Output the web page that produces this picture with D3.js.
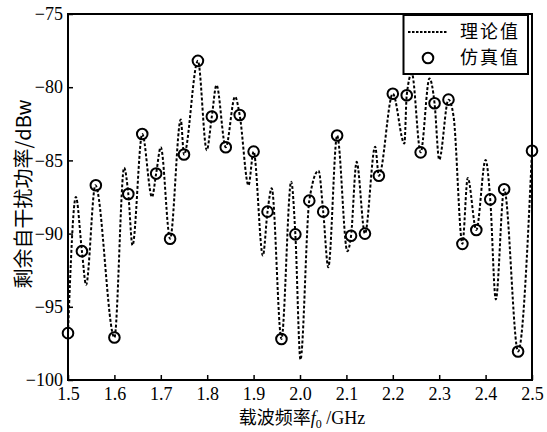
<!DOCTYPE html>
<html><head><meta charset="utf-8">
<script src="https://cdn.jsdelivr.net/npm/d3@7"></script>
<style>body{margin:0;background:#fff}</style>
</head><body><svg id="c" width="547" height="432"></svg>
<script>
// ---- data ----
const simFreq = [1.50,1.53,1.56,1.60,1.63,1.66,1.69,1.72,1.75,1.78,1.81,1.84,1.87,1.90,1.93,1.96,1.99,
                 2.02,2.05,2.08,2.11,2.14,2.17,2.20,2.23,2.26,2.29,2.32,2.35,2.38,2.41,2.44,2.47,2.50];
const simValue = [-96.8,-91.2,-86.7,-97.1,-87.3,-83.2,-85.9,-90.35,-84.6,-78.2,-82.0,-84.1,-81.9,-84.4,-88.5,-97.2,-90.05,
                  -87.75,-88.5,-83.3,-90.15,-90.0,-86.05,-80.45,-80.55,-84.45,-81.1,-80.85,-90.7,-89.75,-87.66,-86.97,-98.05,-84.34];
const theoryFreq = [1.500,1.517,1.530,1.539,1.559,1.600,1.621,1.630,1.639,1.660,1.681,1.690,1.700,1.720,1.743,1.750,1.780,
                    1.799,1.810,1.820,1.840,1.860,1.870,1.889,1.900,1.920,1.930,1.939,1.960,1.981,1.990,2.001,2.020,
                    2.040,2.050,2.061,2.080,2.102,2.110,2.122,2.140,2.162,2.170,2.200,2.225,2.230,2.241,2.260,2.279,
                    2.290,2.300,2.320,2.331,2.350,2.3615,2.380,2.400,2.410,2.422,2.440,2.470,2.500];
const theoryValue = [-96.8,-87.5,-91.2,-93.5,-86.7,-97.1,-85.5,-87.3,-90.8,-83.2,-87.5,-85.9,-84.1,-90.35,-82.2,-84.6,-78.2,
                     -84.3,-82.0,-79.85,-84.1,-80.65,-81.9,-86.7,-84.4,-91.5,-88.5,-86.9,-97.2,-86.45,-90.05,-98.6,-87.75,
                     -85.7,-88.5,-92.3,-83.3,-91.2,-90.15,-85.1,-90.0,-84.06,-86.05,-80.45,-83.85,-80.55,-79.05,-84.45,-79.4,
                     -81.1,-84.95,-80.85,-82.0,-90.7,-86.2,-89.75,-84.97,-87.66,-94.5,-86.97,-98.05,-84.34];
const xTicks = [1.5,1.6,1.7,1.8,1.9,2.0,2.1,2.2,2.3,2.4,2.5];
const yTicks = [-75,-80,-85,-90,-95,-100];
const legendNames = ["理论值","仿真值"];
const yTitle = "剩余自干扰功率/dBw";
const xTitleCn = "载波频率";

// ---- drawing ----
const svg = d3.select("#c");
const L = 68, R = 532, T = 14, B = 380;
const x = d3.scaleLinear().domain([1.5,2.5]).range([L,R]);
const y = d3.scaleLinear().domain([-100,-75]).range([B,T]);
const serif = "'Liberation Serif','Times New Roman',serif";
const cjk = "'Noto Sans CJK SC','Liberation Serif',serif";

const xa = svg.append("g").attr("transform",`translate(0,${B})`)
  .call(d3.axisBottom(x).tickValues(xTicks).tickSize(-5).tickPadding(7).tickFormat(d3.format(".1f")));
const ya = svg.append("g").attr("transform",`translate(${L},0)`)
  .call(d3.axisLeft(y).tickValues(yTicks).tickSize(-5).tickPadding(5).tickFormat(d3.format("d")));
[xa,ya].forEach(a=>{
  a.select(".domain").remove();
  a.selectAll(".tick line").attr("stroke","#000").attr("stroke-width",1.5);
  a.selectAll("text").attr("font-family",serif).attr("font-size",18).attr("fill","#000");
});

// theory line
const pts = theoryFreq.map((f,i)=>[f,theoryValue[i]]);
svg.append("path").datum(pts)
  .attr("d", d3.line().x(d=>x(d[0])).y(d=>y(d[1])).curve(d3.curveMonotoneX))
  .attr("fill","none").attr("stroke","#000").attr("stroke-width",2).attr("stroke-dasharray","3 2");

// sim circles
svg.append("g").selectAll("circle").data(simFreq.map((f,i)=>[f,simValue[i]])).join("circle")
  .attr("cx",d=>x(d[0])).attr("cy",d=>y(d[1])).attr("r",5.3)
  .attr("fill","none").attr("stroke","#000").attr("stroke-width",2);

// frame
svg.append("rect").attr("x",L).attr("y",T).attr("width",R-L).attr("height",B-T)
  .attr("fill","none").attr("stroke","#000").attr("stroke-width",2);

// legend
const lg = svg.append("g");
const rowY = [32, 58];
lg.append("rect").attr("x",403.5).attr("y",15).attr("width",124.5).attr("height",59)
  .attr("fill","#fff").attr("stroke","#000").attr("stroke-width",2);
lg.append("line").attr("x1",408).attr("x2",448).attr("y1",rowY[0]).attr("y2",rowY[0])
  .attr("stroke","#000").attr("stroke-width",2).attr("stroke-dasharray","2.5 1.5");
lg.append("circle").attr("cx",428).attr("cy",rowY[1]).attr("r",5.3)
  .attr("fill","none").attr("stroke","#000").attr("stroke-width",2);
lg.selectAll("text.lt").data(legendNames).join("text").attr("class","lt")
  .attr("x",460).attr("y",(d,i)=>rowY[i]).attr("dy","0.36em")
  .attr("font-family",cjk).attr("font-size",18).attr("letter-spacing",2).attr("fill","#000").text(d=>d);

// axis titles
const xt = svg.append("text").attr("x",(L+R)/2+2).attr("y",424).attr("text-anchor","middle")
  .attr("fill","#000").attr("font-size",18).attr("font-family",serif);
xt.append("tspan").attr("font-family",cjk).text(xTitleCn);
xt.append("tspan").attr("font-style","italic").text("f");
xt.append("tspan").attr("font-size",12).attr("dy",4).text("0");
xt.append("tspan").attr("dy",-4).text(" /GHz");

svg.append("text").attr("transform",`translate(31,${(T+B)/2-3}) rotate(-90)`)
  .attr("text-anchor","middle").attr("font-family",cjk).attr("font-size",20).attr("fill","#000")
  .text(yTitle);
</script>
</body></html>
